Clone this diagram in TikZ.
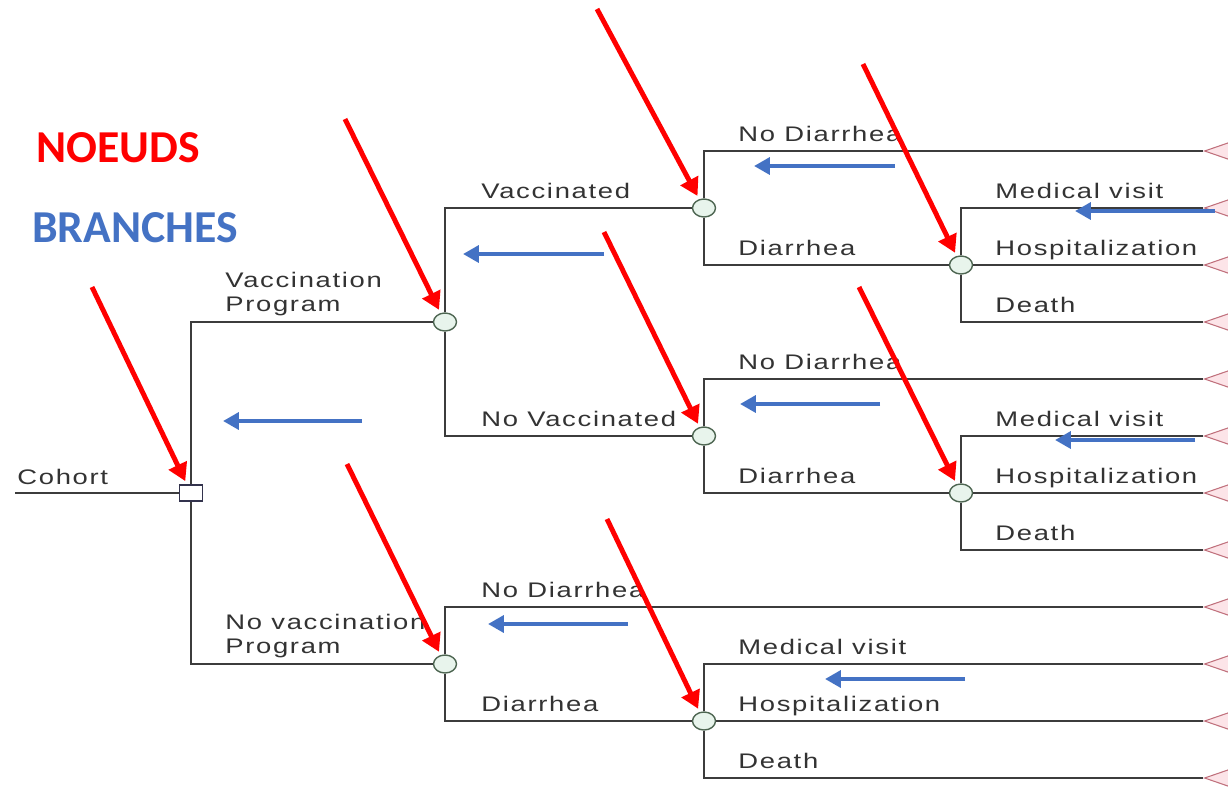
\documentclass[tikz,border=0pt]{standalone}
\usepackage{fontspec}
\newfontfamily\treefont[FakeStretch=1.3,LetterSpace=8]{Liberation Sans}
\newfontfamily\notefont{Carlito}
\usetikzlibrary{shapes.geometric,arrows.meta,calc,positioning}
\definecolor{linecol}{HTML}{3C3C3C}
\definecolor{sqcol}{HTML}{33334D}
\definecolor{chcol}{HTML}{4E6652}
\definecolor{chfill}{HTML}{E8F4EC}
\definecolor{lfcol}{HTML}{C0707C}
\definecolor{lffill}{HTML}{FCE4E8}
\definecolor{notered}{HTML}{FF0000}
\definecolor{noteblue}{HTML}{4472C4}
\begin{document}
\begin{tikzpicture}[grow'=right,
  decision/.style={rectangle,draw=sqcol,fill=white,line width=0.8pt,inner sep=0,minimum width=0.46cm,minimum height=0.32cm},
  chance/.style={ellipse,draw=chcol,fill=chfill,line width=0.8pt,inner sep=0,minimum width=0.46cm,minimum height=0.36cm},
  terminal/.style={isosceles triangle,isosceles triangle apex angle=38,shape border rotate=180,draw=lfcol,fill=lffill,line width=0.6pt,inner sep=0,minimum height=0.7cm,minimum width=0.4cm,anchor=apex},
  edge from parent/.style={draw=linecol,line width=1.1pt,edge from parent path={(\tikzparentnode) |- (\tikzchildnode)}},
  straight/.style={edge from parent/.append style={edge from parent path={(\tikzparentnode) -- (\tikzchildnode)}}},
  lbl/.style={anchor=base west,inner sep=0,text=black!80,font=\treefont\fontsize{12}{14}\selectfont},
  noeud/.style={draw=notered,line width=2.8pt,-{Triangle[length=10pt,width=11pt]},shorten >=2pt},
  fleche/.style={draw=noteblue,line width=2.8pt,-{Triangle[length=9pt,width=9.5pt]}},
  level 1/.style={sibling distance=6.84cm, level distance=5.08cm},
  level 2/.style={sibling distance=4.56cm, level distance=5.18cm},
  level 3/.style={sibling distance=2.28cm, level distance=5.14cm},
  level 4/.style={sibling distance=1.14cm, level distance=4.84cm}]
\useasboundingbox[fill=white] (0,0) rectangle (24.56,-15.72);
% decision tree
\node[decision] (sq) at (3.82,-9.86) {}
  child { node[chance] (vp) {}
    child { node[chance] (v) {}
      child[level distance=9.98cm] { node[terminal] (l1) {} }
      child { node[chance] (vd) {}
        child { node[terminal] (l2) {} }
        child[straight] { node[terminal] (l3) {} }
        child { node[terminal] (l4) {} } } }
    child { node[chance] (nv) {}
      child[level distance=9.98cm] { node[terminal] (l5) {} }
      child { node[chance] (nvd) {}
        child { node[terminal] (l6) {} }
        child[straight] { node[terminal] (l7) {} }
        child { node[terminal] (l8) {} } } } }
  child { node[chance] (nvp) {}
    child[sibling distance=2.28cm, level distance=15.16cm] { node[terminal] (l9) {} }
    child[sibling distance=2.28cm] { node[chance] (nd) {}
      child[sibling distance=1.14cm, level distance=9.98cm] { node[terminal] (l10) {} }
      child[sibling distance=1.14cm, level distance=9.98cm, straight] { node[terminal] (l11) {} }
      child[sibling distance=1.14cm, level distance=9.98cm] { node[terminal] (l12) {} } } };
\coordinate (in) at (0.3,-9.86);
\draw[draw=linecol,line width=1.1pt] (in) -- (sq);
% labels
\node[lbl] at ($(in)+(0.04,0.18)$) {Cohort};
\node[lbl,anchor=south west,align=left] at ($(sq |- vp)+(0.68,0.11)$) {Vaccination\\Program};
\node[lbl,anchor=south west,align=left] at ($(sq |- nvp)+(0.68,0.11)$) {No vaccination\\Program};
\node[lbl] at ($(vp |- v)+(0.72,0.2)$) {Vaccinated};
\node[lbl] at ($(vp |- nv)+(0.72,0.2)$) {No Vaccinated};
\node[lbl] at ($(v |- l1)+(0.68,0.2)$) {No Diarrhea};
\node[lbl] at ($(v |- vd)+(0.68,0.2)$) {Diarrhea};
\node[lbl] at ($(vd |- l2)+(0.68,0.2)$) {Medical visit};
\node[lbl] at ($(vd |- l3)+(0.68,0.2)$) {Hospitalization};
\node[lbl] at ($(vd |- l4)+(0.68,0.2)$) {Death};
\node[lbl] at ($(nv |- l5)+(0.68,0.2)$) {No Diarrhea};
\node[lbl] at ($(nv |- nvd)+(0.68,0.2)$) {Diarrhea};
\node[lbl] at ($(nvd |- l6)+(0.68,0.2)$) {Medical visit};
\node[lbl] at ($(nvd |- l7)+(0.68,0.2)$) {Hospitalization};
\node[lbl] at ($(nvd |- l8)+(0.68,0.2)$) {Death};
\node[lbl] at ($(nvp |- l9)+(0.72,0.2)$) {No Diarrhea};
\node[lbl] at ($(nvp |- nd)+(0.72,0.2)$) {Diarrhea};
\node[lbl] at ($(nd |- l10)+(0.68,0.2)$) {Medical visit};
\node[lbl] at ($(nd |- l11)+(0.68,0.2)$) {Hospitalization};
\node[lbl] at ($(nd |- l12)+(0.68,0.2)$) {Death};
% annotations
\node[anchor=base west,inner sep=0,text=notered,font=\notefont\bfseries\fontsize{26}{30}\selectfont] (noeuds) at (0.72,-3.24) {NOEUDS};
\node[anchor=base west,inner sep=0,text=noteblue,font=\notefont\bfseries\fontsize{26}{30}\selectfont] (branches) at (0.64,-4.84) {BRANCHES};
\draw[noeud] ($(sq)+(-1.98,4.12)$) -- (sq);
\draw[noeud] ($(vp)+(-2.0,4.06)$) -- (vp);
\draw[noeud] ($(v)+(-2.14,3.98)$) -- (v);
\draw[noeud] ($(vd)+(-1.96,4.02)$) -- (vd);
\draw[noeud] ($(nv)+(-2.0,4.08)$) -- (nv);
\draw[noeud] ($(nvd)+(-2.04,4.12)$) -- (nvd);
\draw[noeud] ($(nvp)+(-1.96,4.0)$) -- (nvp);
\draw[noeud] ($(nd)+(-1.94,4.04)$) -- (nd);
\draw[fleche] (7.24,-8.42) -- ++(-2.78,0);
\draw[fleche] (12.08,-5.08) -- ++(-2.82,0);
\draw[fleche] (17.9,-3.32) -- ++(-2.82,0);
\draw[fleche] (24.3,-4.22) -- ++(-2.8,0);
\draw[fleche] (17.6,-8.08) -- ++(-2.8,0);
\draw[fleche] (23.9,-8.8) -- ++(-2.8,0);
\draw[fleche] (12.56,-12.48) -- ++(-2.8,0);
\draw[fleche] (19.3,-13.58) -- ++(-2.8,0);
\end{tikzpicture}
\end{document}
